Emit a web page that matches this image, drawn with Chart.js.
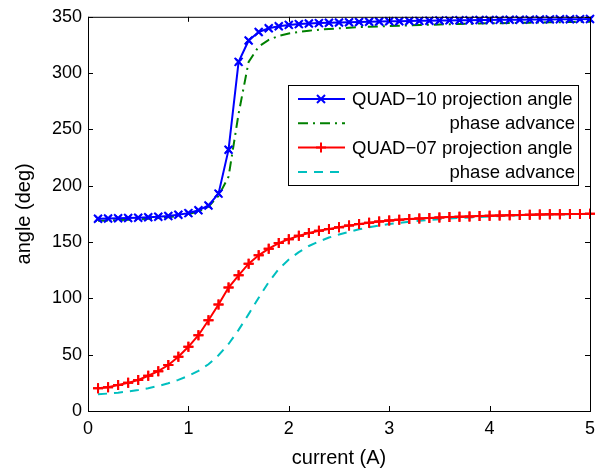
<!DOCTYPE html>
<html>
<head>
<meta charset="utf-8">
<script src="https://cdn.jsdelivr.net/npm/chart.js@4/dist/chart.umd.min.js"></script>
<style>
  html, body { margin: 0; padding: 0; background: #fff; }
  #wrap { width: 612px; height: 468px; }
</style>
</head>
<body>
<div id="wrap"><canvas id="grafico" width="612" height="468"></canvas></div>
<script>
var corrente = [0.1, 0.2, 0.3, 0.4, 0.5, 0.6, 0.7, 0.8, 0.9, 1.0,
  1.1, 1.2, 1.3, 1.4, 1.5, 1.6, 1.7, 1.8, 1.9, 2.0,
  2.1, 2.2, 2.3, 2.4, 2.5, 2.6, 2.7, 2.8, 2.9, 3.0,
  3.1, 3.2, 3.3, 3.4, 3.5, 3.6, 3.7, 3.8, 3.9, 4.0,
  4.1, 4.2, 4.3, 4.4, 4.5, 4.6, 4.7, 4.8, 4.9, 5.0];

var quad10Projecao = [170.7, 170.9, 171.1, 171.3, 171.6, 172.0, 172.5, 173.2, 174.2, 175.7,
  178.2, 182.5, 193.0, 232.0, 310.0, 329.0, 336.5, 339.8, 341.6, 342.8,
  343.5, 344.0, 344.4, 344.7, 345.0, 345.2, 345.4, 345.6, 345.8, 346.0,
  346.1, 346.3, 346.4, 346.5, 346.7, 346.8, 346.9, 347.0, 347.1, 347.2,
  347.3, 347.4, 347.4, 347.5, 347.6, 347.7, 347.8, 347.8, 347.9, 348.0];

var quad10Fase = [169.0, 169.2, 169.5, 169.8, 170.2, 170.7, 171.3, 172.1, 173.2, 174.8,
  177.2, 181.5, 191.0, 208.0, 264.0, 310.0, 323.5, 329.5, 333.0, 335.2,
  336.6, 337.7, 338.5, 339.2, 339.8, 340.3, 340.8, 341.2, 341.5, 341.8,
  342.1, 342.4, 342.7, 342.9, 343.2, 343.4, 343.6, 343.8, 344.0, 344.2,
  344.3, 344.5, 344.6, 344.8, 345.0, 345.1, 345.2, 345.4, 345.5, 345.6];

var quad07Projecao = [20.1, 21.0, 23.0, 25.0, 27.5, 31.3, 35.4, 40.8, 48.1, 57.0,
  67.3, 80.6, 94.5, 109.6, 120.5, 130.8, 138.2, 144.1, 149.1, 152.6,
  155.5, 158.0, 160.0, 161.6, 163.1, 164.6, 166.0, 167.1, 168.2, 169.1,
  169.8, 170.4, 171.0, 171.4, 171.9, 172.2, 172.5, 172.8, 173.1, 173.4,
  173.6, 173.8, 174.0, 174.2, 174.4, 174.6, 174.7, 174.9, 175.0, 175.1];

var quad07Fase = [14.8, 15.5, 16.3, 17.3, 18.6, 20.2, 22.2, 24.6, 27.6, 31.2,
  35.6, 41.5, 49.5, 59.5, 72.0, 86.0, 100.5, 114.5, 126.0, 134.5,
  141.0, 146.5, 150.5, 154.0, 156.7, 159.0, 161.3, 163.1, 164.7, 166.0,
  167.1, 168.0, 168.9, 169.7, 170.3, 170.9, 171.4, 171.9, 172.3, 172.7,
  173.1, 173.5, 173.8, 174.1, 174.3, 174.5, 174.7, 174.8, 174.9, 175.0];

var nomesSeries = ["QUAD\u221210 projection angle", "phase advance",
  "QUAD\u221207 projection angle", "phase advance"];

var ticksX = [0, 1, 2, 3, 4, 5];
var ticksY = [0, 50, 100, 150, 200, 250, 300, 350];

var fonte = "'Liberation Sans', Arial, Helvetica, sans-serif";

function pares(xs, ys) {
  var out = [];
  for (var i = 0; i < xs.length; i++) {
    out.push({ x: xs[i], y: ys[i] });
  }
  return out;
}

// desenha o marcador no estilo do matlab (x ou +)
function marcador(ctx, tipo, x, y, r) {
  ctx.beginPath();
  if (tipo === "crossRot") {
    ctx.moveTo(x - r, y - r); ctx.lineTo(x + r, y + r);
    ctx.moveTo(x + r, y - r); ctx.lineTo(x - r, y + r);
  } else {
    ctx.moveTo(x - r, y); ctx.lineTo(x + r, y);
    ctx.moveTo(x, y - r); ctx.lineTo(x, y + r);
  }
  ctx.stroke();
}

// caixa do eixo com ticks para dentro
var eixoCaixa = {
  id: "eixoCaixa",
  afterDatasetsDraw: function (chart) {
    var ctx = chart.ctx;
    var a = chart.chartArea;
    var sx = chart.scales.x;
    var sy = chart.scales.y;
    var t = 5;
    ctx.save();
    ctx.strokeStyle = "#000";
    ctx.lineWidth = 1;
    ctx.strokeRect(a.left + 0.5, a.top + 0.5, a.right - a.left, a.bottom - a.top);
    ctx.beginPath();
    ticksX.forEach(function (v) {
      var px = Math.round(sx.getPixelForValue(v)) + 0.5;
      ctx.moveTo(px, a.bottom); ctx.lineTo(px, a.bottom - t);
      ctx.moveTo(px, a.top); ctx.lineTo(px, a.top + t);
    });
    ticksY.forEach(function (v) {
      var py = Math.round(sy.getPixelForValue(v)) + 0.5;
      ctx.moveTo(a.left, py); ctx.lineTo(a.left + t, py);
      ctx.moveTo(a.right, py); ctx.lineTo(a.right - t, py);
    });
    ctx.stroke();
    ctx.restore();
  }
};

// legenda no estilo matlab, com os textos de fase alinhados a direita
var legendaMatlab = {
  id: "legendaMatlab",
  afterDraw: function (chart) {
    var ctx = chart.ctx;
    var bx = 288, by = 85, bw = 290, bh = 100;
    ctx.save();
    ctx.fillStyle = "#fff";
    ctx.fillRect(bx, by, bw, bh);
    ctx.strokeStyle = "#000";
    ctx.lineWidth = 1;
    ctx.strokeRect(bx + 0.5, by + 0.5, bw, bh);
    ctx.font = "18.5px " + fonte;
    ctx.textBaseline = "middle";
    chart.data.datasets.forEach(function (ds, i) {
      var ly = by + 14 + i * 24.3;
      ctx.strokeStyle = ds.borderColor;
      ctx.lineWidth = ds.borderWidth;
      ctx.setLineDash(ds.borderDash || []);
      ctx.beginPath();
      ctx.moveTo(bx + 10, ly);
      ctx.lineTo(bx + 57, ly);
      ctx.stroke();
      ctx.setLineDash([]);
      if (ds.pointRadius > 0) {
        ctx.lineWidth = ds.pointBorderWidth;
        marcador(ctx, ds.pointStyle, bx + 33, ly, ds.pointRadius);
      }
      ctx.fillStyle = "#000";
      if (ds.alinhamento === "right") {
        ctx.textAlign = "right";
        ctx.fillText(ds.label, bx + bw - 3, ly + 1);
      } else {
        ctx.textAlign = "left";
        ctx.fillText(ds.label, bx + 64, ly + 1);
      }
    });
    ctx.restore();
  }
};

// marcadores x e + desenhados por cima das linhas
var marcadores = {
  id: "marcadores",
  afterDatasetsDraw: function (chart) {
    var ctx = chart.ctx;
    ctx.save();
    chart.data.datasets.forEach(function (ds, i) {
      if (!(ds.pointRadius > 0)) return;
      var meta = chart.getDatasetMeta(i);
      ctx.strokeStyle = ds.borderColor;
      ctx.lineWidth = ds.pointBorderWidth;
      meta.data.forEach(function (p) {
        marcador(ctx, ds.pointStyle, p.x, p.y, ds.pointRadius);
      });
    });
    ctx.restore();
  }
};

const data = {
  datasets: [
    {
      label: nomesSeries[0],
      data: pares(corrente, quad10Projecao),
      borderColor: "#0000FF",
      borderWidth: 2,
      pointStyle: "crossRot",
      pointRadius: 4,
      pointBorderWidth: 2,
      alinhamento: "left",
    },
    {
      label: nomesSeries[1],
      data: pares(corrente, quad10Fase),
      borderColor: "#008000",
      borderWidth: 2,
      borderDash: [10, 5, 2, 5],
      pointRadius: 0,
      alinhamento: "right",
    },
    {
      label: nomesSeries[2],
      data: pares(corrente, quad07Projecao),
      borderColor: "#FF0000",
      borderWidth: 2,
      pointStyle: "cross",
      pointRadius: 5,
      pointBorderWidth: 2,
      alinhamento: "left",
    },
    {
      label: nomesSeries[3],
      data: pares(corrente, quad07Fase),
      borderColor: "#00BFBF",
      borderWidth: 2,
      borderDash: [9, 7],
      pointRadius: 0,
      alinhamento: "right",
    },
  ],
};

// os pontos nativos ficam escondidos, quem desenha e o plugin
data.datasets.forEach(function (ds) {
  ds.showLine = true;
  ds.fill = false;
  ds.tension = 0;
  ds.clip = 12;
  ds.elements = { point: { radius: 0, hoverRadius: 0 } };
});

const config = {
  type: "scatter",
  data: data,
  options: {
    responsive: false,
    animation: false,
    events: [],
    datasets: { scatter: { pointRadius: 0, pointHoverRadius: 0 } },
    layout: { padding: { left: 0, top: 16, right: 22, bottom: 0 } },
    plugins: {
      legend: { display: false },
      tooltip: { enabled: false },
    },
    scales: {
      x: {
        type: "linear",
        min: 0,
        max: 5,
        afterFit: function (s) { s.height = 57; },
        afterBuildTicks: function (s) {
          s.ticks = ticksX.map(function (v) { return { value: v }; });
        },
        grid: { display: false, drawTicks: false },
        border: { display: false },
        ticks: {
          padding: 7,
          maxRotation: 0,
          autoSkip: false,
          color: "#000",
          font: { family: fonte, size: 18 },
        },
        title: {
          display: true,
          text: "current (A)",
          color: "#000",
          font: { family: fonte, size: 20 },
          padding: { top: 0, bottom: -2 },
        },
      },
      y: {
        type: "linear",
        min: 0,
        max: 350,
        afterFit: function (s) { s.width = 88; },
        afterBuildTicks: function (s) {
          s.ticks = ticksY.map(function (v) { return { value: v }; });
        },
        grid: { display: false, drawTicks: false },
        border: { display: false },
        ticks: {
          padding: 6,
          autoSkip: false,
          color: "#000",
          font: { family: fonte, size: 18 },
        },
        title: {
          display: true,
          text: "angle (deg)",
          color: "#000",
          font: { family: fonte, size: 20 },
          padding: { top: 12, bottom: 0 },
        },
      },
    },
  },
  plugins: [marcadores, eixoCaixa, legendaMatlab],
};

new Chart(document.getElementById("grafico"), config);
</script>
</body>
</html>
